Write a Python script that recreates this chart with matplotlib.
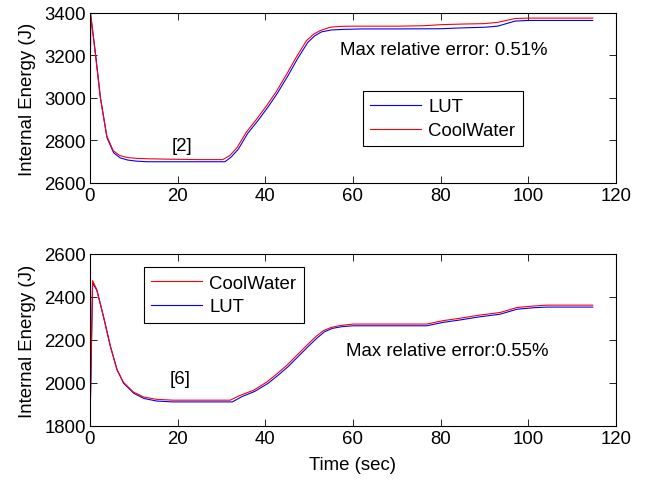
import matplotlib
matplotlib.use('Agg')
import matplotlib.pyplot as plt

plt.rcParams['font.family'] = ['Liberation Sans', 'DejaVu Sans']
plt.rcParams['font.size'] = 13.4

# Internal energy, case [2]
t_cw_2 = [0, 0.15, 1.1, 2.3, 3.8, 5.3, 6.8, 8.5, 10.5, 13, 18, 25, 30.3, 31.9, 33.5, 35.7, 38, 40.3,
          42.5, 44.9, 47, 49.4, 51, 52.5, 54.8, 57, 60, 70, 76, 80, 85, 90, 93, 97, 100, 114.7]
e_cw_2 = [2600, 3395, 3230, 3010, 2823, 2752, 2729, 2720, 2716, 2714, 2712, 2710, 2710, 2729, 2765, 2840, 2900, 2964,
          3030, 3113, 3190, 3270, 3300, 3317, 3333, 3337, 3338, 3338, 3340, 3345, 3348, 3350, 3356, 3374, 3376, 3376]
t_lut_2 = [0, 0.15, 1.2, 2.4, 3.9, 5.4, 6.9, 8.6, 10.5, 13, 18, 25, 30.8, 32.2, 33.8, 36.0, 38.3, 40.6,
           42.8, 45.2, 47.3, 49.7, 51.3, 52.8, 55, 58, 62, 70, 80, 85, 90, 93, 97, 100, 114.7]
e_lut_2 = [2770, 3390, 3220, 3000, 2812, 2742, 2718, 2708, 2703, 2700, 2700, 2700, 2700, 2722, 2758, 2834, 2893, 2957,
           3024, 3106, 3183, 3262, 3293, 3311, 3320, 3323, 3325, 3325, 3326, 3330, 3333, 3338, 3362, 3365, 3365]

# Internal energy, case [6]
t_cw_6 = [0, 0.6, 1.5, 3, 4.6, 6.1, 7.6, 9.9, 12.2, 15.2, 19, 25, 32, 34.2, 37.3, 40.3, 42.5, 44.9,
          47, 49.4, 51.5, 53.2, 55, 57, 60, 70, 76.8, 80.6, 84.4, 89, 93.6, 97.4, 101.2, 104.2, 114.7]
e_cw_6 = [1800, 2476, 2437, 2314, 2174, 2066, 2004, 1958, 1935, 1924, 1920, 1920, 1920, 1942, 1966, 2004, 2040, 2082,
          2125, 2174, 2215, 2243, 2258, 2267, 2274, 2274, 2274, 2290, 2301, 2316, 2328, 2351, 2358, 2362, 2362]
t_lut_6 = [0, 0.6, 1.6, 3.1, 4.7, 6.2, 7.7, 10, 12.3, 15.2, 19, 25, 32.5, 34.6, 37.6, 40.6, 42.8, 45.2,
           47.3, 49.7, 51.8, 53.5, 55.3, 57.5, 60, 70, 76.8, 80.6, 84.4, 89, 93.6, 97.4, 101.2, 104.2, 114.7]
e_lut_6 = [1800, 2465, 2430, 2308, 2168, 2060, 1998, 1952, 1928, 1916, 1912, 1912, 1912, 1936, 1961, 1998, 2034, 2076,
           2119, 2168, 2209, 2238, 2254, 2262, 2266, 2266, 2266, 2282, 2293, 2308, 2320, 2343, 2350, 2353, 2353]

fig = plt.figure(figsize=(6.45, 4.81), dpi=100)
ax1 = fig.add_axes([0.1395, 0.6175, 0.8155, 0.3534])
ax2 = fig.add_axes([0.1395, 0.1123, 0.8155, 0.3576])

lw = 0.8
leg_kw = dict(fancybox=False, edgecolor='black', framealpha=1, handlelength=2.7,
              handletextpad=0.4, labelspacing=0.35, borderpad=0.4, borderaxespad=0)

# top panel
ax1.plot(t_lut_2, e_lut_2, color='blue', lw=lw, label='LUT')
ax1.plot(t_cw_2, e_cw_2, color='red', lw=lw, label='CoolWater')
ax1.set_ylim(2600, 3400)
ax1.set_yticks([2600, 2800, 3000, 3200, 3400])
ax1.text(57.0, 3226, 'Max relative error: 0.51%', ha='left', va='center')
ax1.text(21.0, 2776, '[2]', ha='center', va='center')
leg1 = ax1.legend(loc='upper left', bbox_to_anchor=(0.519, 0.541), **leg_kw)

# bottom panel
ax2.plot(t_cw_6, e_cw_6, color='red', lw=lw, label='CoolWater', zorder=2)
ax2.plot(t_lut_6, e_lut_6, color='blue', lw=lw, label='LUT', zorder=1)
ax2.set_ylim(1800, 2600)
ax2.set_yticks([1800, 2000, 2200, 2400, 2600])
ax2.text(58.4, 2149, 'Max relative error:0.55%', ha='left', va='center')
ax2.text(20.6, 2019, '[6]', ha='center', va='center')
leg2 = ax2.legend(loc='upper left', bbox_to_anchor=(0.1027, 0.924), **leg_kw)
ax2.set_xlabel('Time (sec)', labelpad=6.5)

for leg in (leg1, leg2):
    leg.get_frame().set_linewidth(0.8)

for ax in (ax1, ax2):
    ax.set_xlim(0, 120)
    ax.set_xticks(range(0, 121, 20))
    ax.set_ylabel('Internal Energy (J)', labelpad=5.5)
    ax.tick_params(direction='in', top=True, right=True, length=5, width=0.6, pad=3)
    for s in ax.spines.values():
        s.set_linewidth(0.8)

fig.savefig('out.png', dpi=100)
